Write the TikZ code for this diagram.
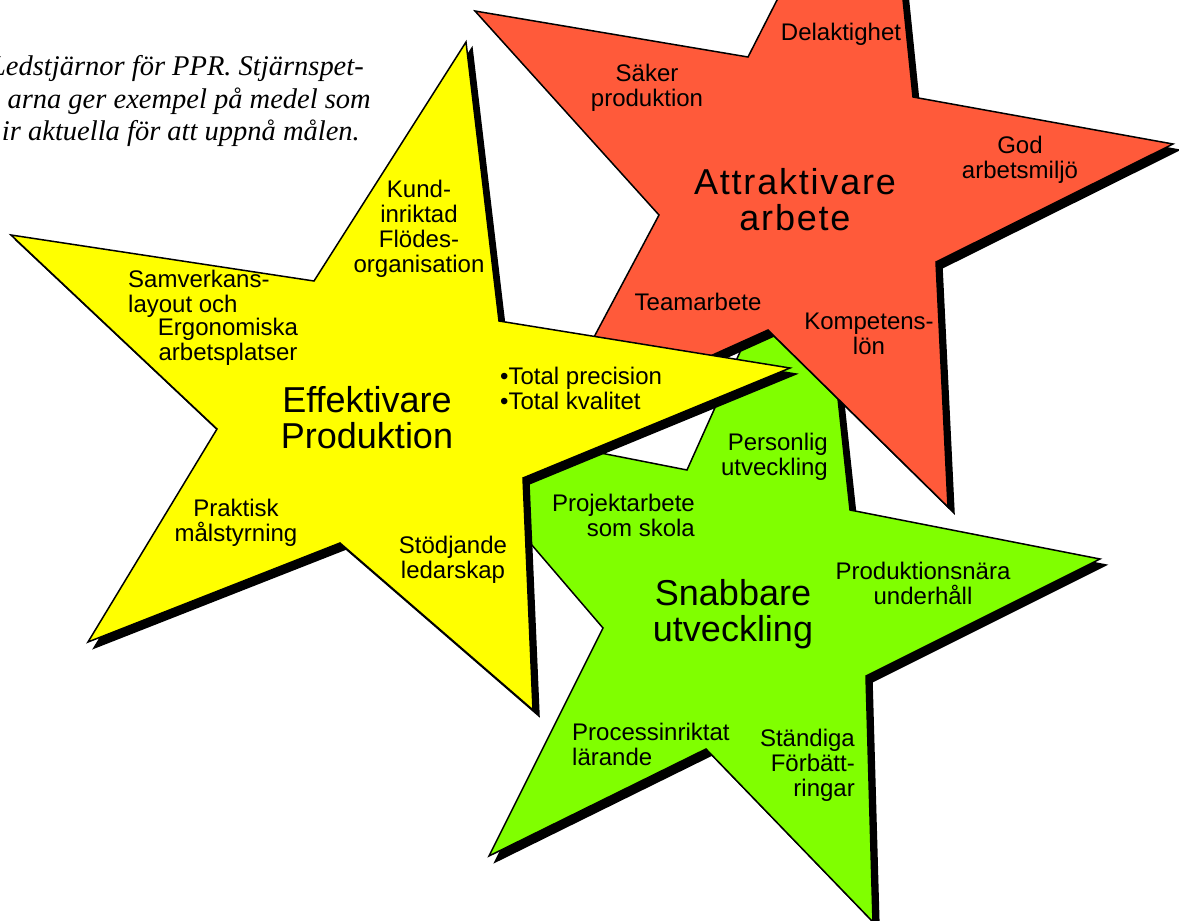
\documentclass[tikz,border=0pt]{standalone}
\usepackage{fontspec}
\setmainfont{Liberation Serif}
\setsansfont{Liberation Sans}
\definecolor{starred}{RGB}{255,90,58}
\definecolor{staryellow}{RGB}{255,255,0}
\definecolor{stargreen}{RGB}{128,255,0}
\tikzset
 {outline/.style = {draw=black, line width=1.5pt},                % thin black rim of a star
  tipnote/.style =  {font=\sffamily\fontsize{24}{25}\selectfont,   % small texts in the star points
                     align=center, inner sep=0pt},
  goal/.style =     {font=\sffamily\fontsize{36}{36}\selectfont,   % the goal in the middle of a star
                     align=center, inner sep=0pt},
  caption/.style =  {font=\rmfamily\itshape\fontsize{28.5}{32}\selectfont, inner sep=0pt}
 }

\begin{document}
\begin{tikzpicture}[x=1pt, y=-1pt]
    \useasboundingbox (0,0) rectangle (1179,921);
    \clip (0,0) rectangle (1179,921);
    % green star at the bottom, red above it, yellow on top; each with a black drop shadow
    \foreach \d/\c in {6/black, 0/stargreen}
        \filldraw[outline, fill=\c, shift={(\d,\d)}] (815,185) -- (850,510) -- (1100,559) -- (866,676)
            -- (873,922) -- (706,749) -- (489,856) -- (603,628) -- (423,418) -- (687,470) -- cycle;
    \foreach \d/\c in {6/black, 0/starred}
        \filldraw[outline, fill=\c, shift={(\d,\d)}] (475,11) -- (748,57) -- (882,-206) -- (913,97)
            -- (1173,144) -- (936,262) -- (948,507) -- (768,330) -- (544,431) -- (659,215) -- cycle;
    \foreach \d/\c in {6/black, 0/staryellow}
        \filldraw[outline, fill=\c, shift={(\d,\d)}] (466,42) -- (499,321) -- (790,368) -- (523,478)
            -- (533,710) -- (340,543) -- (88,642) -- (217,429) -- (11,235) -- (314,281) -- cycle;

    \node[caption, anchor=base east] (cap1) at (364,75) {Ledstjärnor för PPR. Stjärnspet-};
    \node[caption, anchor=base east] (cap2) at (371,108) {arna ger exempel på medel som};
    \node[caption, anchor=base east] (cap3) at (360,140) {ir aktuella för att uppnå målen.};

    % red star: Attraktivare arbete
    \node[tipnote] (delak) at (841,34) {Delaktighet};
    \node[tipnote] (saker) at (647,88) {Säker\\produktion};
    \node[tipnote] (godmiljo) at (1020,160) {God\\arbetsmiljö};
    \node[goal, font=\sffamily\fontsize{36}{36}\selectfont\addfontfeature{LetterSpace=5}]
        (attrakt) at (795,200) {Attraktivare\\arbete};
    \node[tipnote] (team) at (698,302) {Teamarbete};
    \node[tipnote] (kompetens) at (869,334) {Kompetens-\\lön};

    % yellow star: Effektivare Produktion
    \node[tipnote] (kund) at (419,229) {Kund-\\inriktad\\Flödes-\\organisation};
    \node[tipnote, align=left, anchor=west] (samverkan) at (128,294) {Samverkans-\\layout och};
    \node[tipnote] (ergonomi) at (228,342) {Ergonomiska\\arbetsplatser};
    \node[tipnote, align=left, anchor=west] (total) at (500,388) {•Total precision\\•Total kvalitet};
    \node[goal] (effekt) at (367,418) {Effektivare\\Produktion};
    \node[tipnote] (praktisk) at (236,523) {Praktisk\\målstyrning};
    \node[tipnote] (stodjande) at (453,560) {Stödjande\\ledarskap};

    % green star: Snabbare utveckling
    \node[tipnote, align=right, anchor=east] (personlig) at (828,457) {Personlig\\utveckling};
    \node[tipnote, align=right, anchor=east] (projekt) at (695,515) {Projektarbete\\som skola};
    \node[goal] (snabb) at (733,614) {Snabbare\\utveckling};
    \node[tipnote] (underhall) at (923,583) {Produktionsnära\\underhåll};
    \node[tipnote, align=left, anchor=west] (process) at (572,744) {Processinriktat\\lärande};
    \node[tipnote, align=right, anchor=east] (standiga) at (855,765) {Ständiga\\Förbätt-\\ringar};
\end{tikzpicture}
\end{document}
